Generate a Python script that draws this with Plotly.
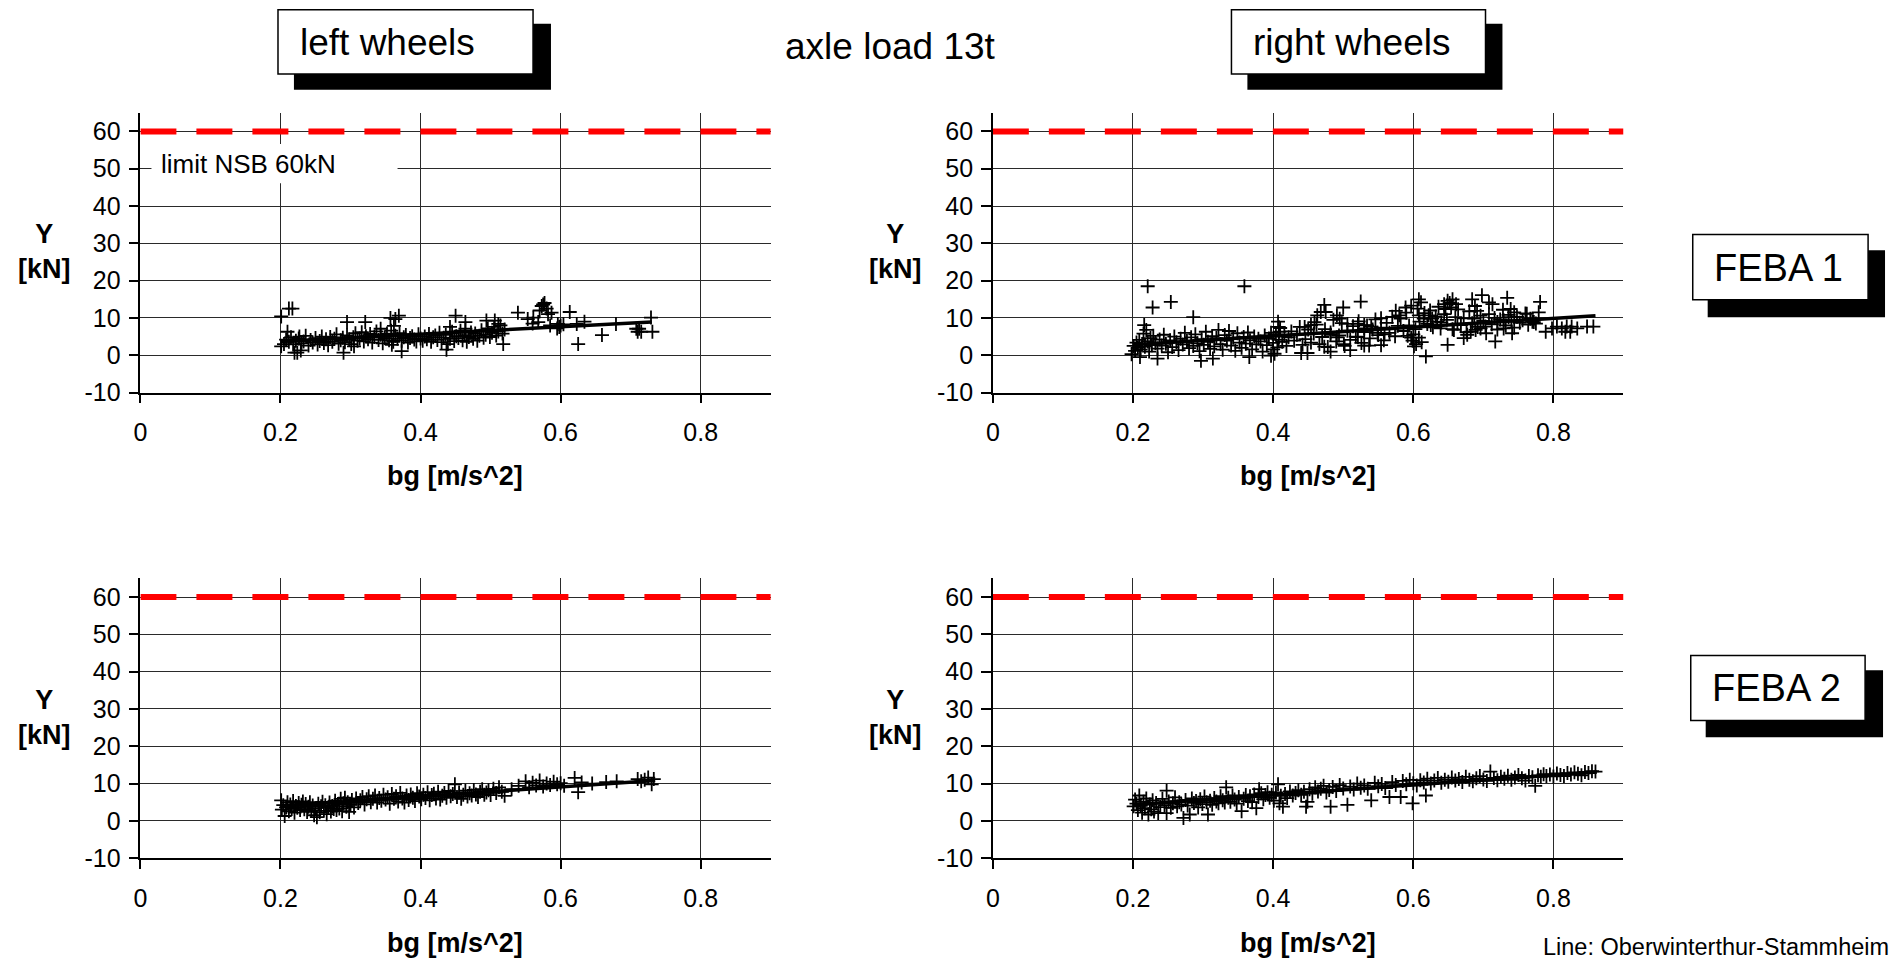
import plotly.graph_objects as go

W, H = 1892, 973

# ---------------- data ----------------
X_TICKS = [0, 0.2, 0.4, 0.6, 0.8]
X_TICK_LABELS = ["0", "0.2", "0.4", "0.6", "0.8"]
Y_TICKS = [-10, 0, 10, 20, 30, 40, 50, 60]
Y_TICK_LABELS = ["-10", "0", "10", "20", "30", "40", "50", "60"]
X_RANGE = [0, 0.9]
Y_RANGE = [-10, 65]
LIMIT_KN = 60
LIMIT_X = [0, 0.9]

# FEBA 1, left wheels
TL_POINTS = [
    (0.201, 10.4), (0.212, 12.5), (0.217, 12.5), (0.210, 6.3), (0.201, 2.4), (0.220, 0.7), (0.224, 0.7),
    (0.229, 1.3), (0.227, 5.0), (0.295, 8.9), (0.321, 8.9), (0.290, 0.7), (0.305, 2.4), (0.343, 7.1),
    (0.357, 10.0), (0.369, 10.6), (0.364, 9.7), (0.362, 7.9), (0.373, 1.1), (0.359, 2.8), (0.450, 10.6),
    (0.437, 1.5), (0.442, 7.6), (0.464, 8.9), (0.464, 7.1), (0.494, 9.3), (0.506, 9.3), (0.511, 8.4),
    (0.518, 3.0), (0.539, 11.4), (0.553, 9.7), (0.561, 10.1), (0.573, 13.2), (0.577, 14.0), (0.575, 13.6),
    (0.568, 8.9), (0.582, 11.0), (0.587, 11.4), (0.596, 8.4), (0.613, 11.6), (0.623, 8.4), (0.625, 3.0),
    (0.634, 9.0), (0.659, 5.4), (0.679, 8.4), (0.708, 7.1), (0.712, 7.1), (0.715, 6.3), (0.710, 6.3),
    (0.729, 10.1), (0.731, 6.3), (0.580, 12.5), (0.570, 12.0), (0.600, 8.0), (0.598, 7.6),
    (0.560, 8.5), (0.585, 8.0), (0.595, 7.2), (0.604, 8.3),
    (0.205, 3.0), (0.208, 4.2), (0.212, 3.6), (0.215, 4.8), (0.218, 2.9), (0.222, 3.9), (0.226, 4.5),
    (0.230, 3.2), (0.233, 3.7), (0.236, 5.2), (0.240, 2.6), (0.243, 4.1), (0.246, 3.4), (0.250, 4.6),
    (0.253, 2.9), (0.256, 3.8), (0.259, 5.0), (0.262, 3.3), (0.265, 4.3), (0.268, 2.7), (0.271, 4.9),
    (0.274, 3.6), (0.277, 4.4), (0.280, 5.6), (0.283, 3.1), (0.286, 4.0), (0.289, 4.7), (0.292, 3.5),
    (0.295, 5.3), (0.298, 4.2), (0.301, 3.0), (0.304, 4.8), (0.307, 5.9), (0.310, 3.9), (0.313, 4.5),
    (0.316, 6.2), (0.319, 3.7), (0.322, 5.1), (0.325, 4.3), (0.328, 5.7), (0.331, 3.4), (0.334, 4.9),
    (0.337, 6.4), (0.340, 4.1), (0.343, 5.5), (0.346, 3.2), (0.349, 4.6), (0.352, 5.8), (0.355, 4.0),
    (0.358, 6.6), (0.361, 3.6), (0.364, 5.2), (0.367, 4.4), (0.370, 5.9), (0.373, 3.9), (0.376, 4.8),
    (0.379, 5.4), (0.382, 3.4), (0.385, 4.6), (0.388, 5.1), (0.391, 4.2), (0.394, 3.7), (0.397, 5.6),
    (0.400, 4.5), (0.403, 3.9), (0.406, 5.0), (0.409, 4.3), (0.412, 5.7), (0.415, 3.6), (0.418, 4.8),
    (0.421, 5.3), (0.424, 4.1), (0.427, 6.0), (0.430, 3.5), (0.433, 4.7), (0.436, 5.5), (0.439, 3.0),
    (0.442, 4.4), (0.445, 6.3), (0.448, 3.8), (0.451, 5.1), (0.454, 4.6), (0.457, 6.6), (0.460, 4.0),
    (0.463, 5.4), (0.466, 3.6), (0.469, 4.9), (0.472, 6.1), (0.475, 4.4), (0.478, 5.8), (0.481, 3.9),
    (0.484, 5.2), (0.487, 6.7), (0.490, 4.7), (0.493, 5.5), (0.496, 7.2), (0.499, 4.9), (0.502, 6.0),
    (0.505, 7.6), (0.508, 5.3), (0.511, 6.4), (0.514, 8.0), (0.517, 5.8), (0.520, 6.9),
]
TL_TREND_X = [0.2, 0.73]
TL_TREND_Y = [3.7, 8.9]

# FEBA 1, right wheels
TR_POINTS = [
    (0.221, 18.5), (0.359, 18.5), (0.228, 12.8), (0.254, 14.3), (0.286, 10.2), (0.216, 8.1),
    (0.297, -1.5), (0.314, -0.9), (0.198, 0.3), (0.210, -0.5), (0.235, -0.9), (0.366, -0.5),
    (0.397, -0.1), (0.400, 1.6), (0.407, 9.0), (0.408, 7.6), (0.409, 6.3), (0.440, 0.6), (0.449, 0.6),
    (0.445, 7.6), (0.454, 8.1), (0.459, 8.9), (0.463, 10.7), (0.473, 13.5), (0.468, 11.6), (0.475, 11.6),
    (0.491, 10.7), (0.500, 12.8), (0.495, 9.8), (0.506, 8.4), (0.521, 8.4), (0.525, 14.4),
    (0.482, 5.5), (0.491, 4.8), (0.501, 3.0), (0.510, 1.4), (0.473, 2.3), (0.482, 1.0), (0.530, 7.2),
    (0.521, 4.9), (0.530, 8.1), (0.540, 7.7), (0.549, 6.0), (0.530, 2.6), (0.537, 2.6), (0.554, 2.7),
    (0.559, 5.6), (0.554, 9.9), (0.575, 11.9), (0.580, 10.7), (0.589, 12.8), (0.597, 13.3), (0.608, 15.0),
    (0.611, 14.2), (0.592, 5.2), (0.599, 3.9), (0.604, 3.0), (0.597, 4.7), (0.608, 4.7), (0.601, 2.4),
    (0.618, -0.3), (0.608, 10.7), (0.615, 9.8), (0.622, 10.7), (0.627, 9.8), (0.634, 9.0), (0.625, 8.1),
    (0.644, 13.7), (0.649, 14.6), (0.656, 15.0), (0.661, 13.7), (0.654, 12.8), (0.646, 12.4), (0.649, 2.8),
    (0.639, 7.2), (0.658, 6.8), (0.663, 8.5), (0.684, 15.0), (0.698, 16.1), (0.708, 14.2), (0.713, 13.7),
    (0.691, 11.9), (0.687, 9.8), (0.672, 4.6), (0.677, 5.5), (0.682, 6.3), (0.689, 6.8), (0.696, 7.2),
    (0.703, 7.7), (0.717, 3.7), (0.720, 8.9), (0.729, 9.4), (0.736, 10.2), (0.734, 15.4), (0.739, 12.4),
    (0.744, 11.5), (0.741, 5.9), (0.729, 7.2), (0.762, 11.1), (0.767, 9.8), (0.772, 8.9), (0.781, 14.3),
    (0.779, 11.5), (0.789, 6.3), (0.798, 7.2), (0.805, 7.7), (0.812, 7.2), (0.819, 7.7), (0.826, 7.7),
    (0.834, 7.2), (0.848, 7.7), (0.857, 7.7), (0.817, 6.3), (0.824, 6.3),
    (0.201, 2.5), (0.203, 1.2), (0.205, 3.4), (0.207, 2.0), (0.209, 4.1), (0.211, 1.5), (0.213, 3.0),
    (0.215, 5.8), (0.217, 2.3), (0.219, 6.8), (0.221, 3.7), (0.223, 1.0), (0.225, 4.6), (0.227, 2.7),
    (0.229, 5.2), (0.232, 3.3), (0.235, 1.8), (0.238, 4.2), (0.241, 2.6), (0.244, 5.5), (0.247, 3.1),
    (0.250, 0.8), (0.253, 4.0), (0.256, 2.2), (0.259, 5.0), (0.262, 3.5), (0.265, 1.4), (0.268, 4.4),
    (0.271, 2.9), (0.274, 6.0), (0.277, 3.8), (0.280, 1.9), (0.283, 4.8), (0.286, 2.5), (0.289, 5.6),
    (0.292, 3.2), (0.295, 1.1), (0.298, 4.3), (0.301, 2.8), (0.304, 6.3), (0.307, 3.6), (0.310, 1.7),
    (0.313, 5.1), (0.316, 2.4), (0.319, 4.6), (0.322, 6.8), (0.325, 3.0), (0.328, 1.5), (0.331, 5.4),
    (0.334, 3.9), (0.337, 6.5), (0.340, 2.6), (0.343, 4.7), (0.346, 1.2), (0.349, 5.9), (0.352, 3.4),
    (0.355, 2.0), (0.358, 4.9), (0.361, 3.1), (0.364, 6.1), (0.367, 4.0), (0.370, 1.6), (0.373, 5.0),
    (0.376, 2.9), (0.379, 4.4), (0.382, 3.7), (0.385, 1.0), (0.388, 5.3), (0.391, 2.7), (0.394, 4.5),
    (0.397, 6.0), (0.400, 3.3), (0.402, 0.4), (0.404, 5.6), (0.406, 2.1), (0.408, 4.1), (0.410, 7.3),
    (0.413, 3.6), (0.416, 5.2), (0.419, 2.5),
    (0.422, 4.8), (0.426, 6.4), (0.430, 3.9), (0.434, 5.5), (0.438, 7.6), (0.442, 2.8), (0.446, 4.3),
    (0.450, 6.9), (0.454, 3.4), (0.458, 5.8), (0.462, 8.2), (0.466, 3.0), (0.470, 4.9), (0.474, 7.0),
    (0.478, 2.2), (0.482, 6.1), (0.486, 9.5), (0.490, 3.7), (0.494, 5.3), (0.498, 8.6), (0.502, 2.5),
    (0.506, 6.6), (0.510, 4.1), (0.514, 7.8), (0.518, 5.0), (0.522, 9.1), (0.526, 3.3), (0.530, 6.2),
    (0.534, 8.0), (0.538, 4.5), (0.542, 6.9), (0.546, 9.6), (0.550, 5.4), (0.554, 7.4), (0.558, 4.0),
    (0.562, 8.7), (0.566, 6.0), (0.570, 10.3), (0.574, 5.1), (0.578, 7.9), (0.582, 9.8), (0.586, 6.5),
    (0.590, 11.4), (0.594, 8.0),
    (0.600, 5.6), (0.603, 7.0), (0.606, 12.5), (0.609, 9.0), (0.612, 3.5), (0.616, 11.3), (0.620, 8.4),
    (0.624, 12.0), (0.628, 7.5), (0.632, 10.4), (0.636, 13.0), (0.640, 8.8), (0.644, 11.0), (0.648, 9.5),
    (0.652, 14.0), (0.656, 7.0), (0.660, 10.2), (0.664, 12.3), (0.668, 8.1), (0.672, 9.9), (0.676, 6.2),
    (0.680, 11.8), (0.684, 8.6), (0.688, 13.2), (0.692, 7.6), (0.696, 10.6), (0.700, 9.2), (0.704, 5.9),
    (0.708, 11.0), (0.712, 8.3), (0.716, 10.0), (0.720, 6.9), (0.724, 9.6), (0.728, 12.2), (0.732, 8.0),
    (0.736, 10.8), (0.740, 9.0), (0.744, 7.4), (0.748, 10.3), (0.752, 8.7), (0.756, 9.4), (0.760, 11.2),
    (0.764, 8.2), (0.770, 9.0), (0.775, 8.5),
]
TR_TREND_X = [0.2, 0.86]
TR_TREND_Y = [2.8, 10.6]

# FEBA 2, left wheels
BL_POINTS = [
    (0.201, 5.5), (0.202, 3.0), (0.204, 4.2), (0.206, 1.3), (0.208, 3.6), (0.210, 5.0), (0.212, 2.6),
    (0.214, 4.4), (0.216, 3.2), (0.218, 5.3), (0.220, 2.2), (0.222, 4.0), (0.224, 3.5), (0.226, 4.8),
    (0.228, 2.9), (0.230, 4.3), (0.232, 5.2), (0.234, 3.1), (0.236, 4.5), (0.238, 2.4), (0.240, 3.8),
    (0.242, 5.0), (0.244, 2.8), (0.246, 4.1), (0.248, 1.5), (0.250, 3.4), (0.252, 1.0), (0.254, 4.6),
    (0.256, 2.3), (0.258, 3.9), (0.260, 5.1), (0.262, 2.7), (0.264, 4.2), (0.266, 1.8), (0.268, 3.6),
    (0.270, 4.9), (0.272, 2.5), (0.274, 4.0), (0.276, 3.2), (0.278, 5.4), (0.280, 2.9), (0.282, 4.5),
    (0.284, 3.3), (0.286, 5.9), (0.288, 2.6), (0.290, 4.7), (0.292, 6.2), (0.294, 3.8), (0.296, 5.0),
    (0.298, 2.4), (0.300, 4.3), (0.302, 5.6), (0.305, 3.6), (0.308, 6.0), (0.311, 4.8), (0.314, 5.5),
    (0.317, 6.4), (0.320, 4.4), (0.323, 5.8), (0.326, 6.6), (0.329, 5.0), (0.332, 5.9), (0.335, 6.8),
    (0.338, 4.9), (0.341, 6.1), (0.344, 5.4), (0.347, 7.0), (0.350, 5.7), (0.353, 6.3), (0.356, 4.6),
    (0.359, 7.2), (0.362, 5.9), (0.365, 6.6), (0.368, 5.2), (0.371, 7.5), (0.374, 6.0), (0.377, 4.9),
    (0.380, 6.8), (0.383, 5.6), (0.386, 7.1), (0.389, 6.2), (0.392, 5.3), (0.395, 7.4), (0.398, 6.5),
    (0.401, 5.8), (0.404, 7.0), (0.407, 6.1), (0.410, 7.7), (0.413, 5.5), (0.416, 6.9), (0.419, 7.3),
    (0.422, 6.0), (0.425, 7.8), (0.428, 5.7), (0.431, 6.7), (0.434, 7.5), (0.437, 6.2), (0.440, 8.0),
    (0.443, 6.6), (0.446, 7.2), (0.449, 9.8), (0.452, 6.4), (0.455, 7.6), (0.458, 5.9), (0.461, 7.0),
    (0.464, 8.1), (0.467, 6.5), (0.470, 7.4), (0.473, 6.8), (0.476, 8.3), (0.479, 7.1), (0.482, 6.4),
    (0.485, 7.8), (0.488, 8.5), (0.491, 7.0), (0.494, 7.6), (0.497, 8.2), (0.500, 6.9), (0.504, 8.6),
    (0.508, 7.5), (0.512, 9.0), (0.516, 7.8), (0.520, 6.7), (0.530, 8.5), (0.540, 9.4), (0.550, 10.6),
    (0.555, 9.0), (0.560, 10.2), (0.565, 9.5), (0.570, 10.8), (0.575, 9.2), (0.580, 10.0), (0.585, 9.6),
    (0.590, 10.5), (0.595, 9.8), (0.600, 10.1), (0.605, 9.4), (0.620, 11.5), (0.625, 7.7), (0.630, 10.3),
    (0.645, 10.0), (0.665, 10.4), (0.680, 10.6), (0.710, 11.2), (0.715, 10.6), (0.720, 11.0),
    (0.725, 11.6), (0.730, 9.8), (0.733, 11.2),
]
BL_TREND_X = [0.2, 0.735]
BL_TREND_Y = [4.0, 10.8]

# FEBA 2, right wheels
BR_POINTS = [
    (0.201, 3.9), (0.203, 5.7), (0.205, 4.6), (0.207, 2.9), (0.209, 6.8), (0.211, 4.0), (0.213, 2.2),
    (0.215, 5.1), (0.217, 3.4), (0.219, 6.0), (0.222, 1.7), (0.224, 4.4), (0.226, 3.1), (0.228, 5.5),
    (0.230, 2.5), (0.233, 4.8), (0.236, 2.1), (0.239, 3.7), (0.242, 5.9), (0.245, 4.2), (0.248, 2.1),
    (0.248, 8.1), (0.251, 5.2), (0.254, 3.5), (0.257, 4.7), (0.260, 6.3), (0.263, 3.9), (0.266, 5.0),
    (0.269, 4.4), (0.272, 0.8), (0.275, 5.6), (0.278, 4.1), (0.281, 1.7), (0.284, 6.0), (0.287, 4.8),
    (0.290, 5.3), (0.293, 3.6), (0.296, 5.8), (0.299, 4.5), (0.302, 6.5), (0.305, 5.0), (0.307, 1.7),
    (0.310, 5.4), (0.313, 4.3), (0.316, 6.1), (0.319, 5.2), (0.322, 4.7), (0.325, 6.6), (0.328, 5.5),
    (0.331, 4.9), (0.333, 9.0), (0.336, 6.2), (0.339, 5.1), (0.342, 6.8), (0.345, 5.7), (0.348, 4.6),
    (0.351, 6.4), (0.355, 2.6), (0.358, 5.9), (0.361, 6.9), (0.364, 5.3), (0.367, 6.6), (0.370, 5.0),
    (0.373, 7.1), (0.376, 3.4), (0.379, 6.4), (0.380, 8.5), (0.383, 7.4), (0.386, 5.8), (0.389, 6.9),
    (0.392, 7.7), (0.395, 6.2), (0.398, 7.0), (0.401, 5.4), (0.404, 7.6), (0.407, 9.8), (0.409, 4.7),
    (0.411, 6.7), (0.414, 3.8), (0.417, 7.2), (0.420, 6.1), (0.424, 7.9), (0.428, 6.8), (0.432, 7.5),
    (0.436, 8.2), (0.440, 7.0), (0.444, 7.8), (0.447, 3.8), (0.449, 5.1), (0.452, 8.5), (0.456, 7.3),
    (0.460, 9.0), (0.464, 7.9), (0.468, 8.6), (0.472, 9.4), (0.476, 7.6), (0.480, 8.3), (0.482, 3.8),
    (0.485, 9.1), (0.490, 8.0), (0.495, 9.6), (0.500, 8.7), (0.506, 4.3), (0.510, 9.2), (0.515, 8.4),
    (0.520, 10.0), (0.525, 8.9), (0.530, 9.5), (0.535, 8.6), (0.540, 5.5), (0.545, 10.2), (0.550, 9.3),
    (0.555, 9.9), (0.560, 8.8), (0.566, 6.4), (0.570, 10.4), (0.575, 9.6), (0.582, 6.4), (0.585, 10.7),
    (0.590, 9.8), (0.595, 11.0), (0.599, 4.7), (0.600, 10.1), (0.605, 9.5), (0.610, 10.9), (0.615, 10.3),
    (0.618, 6.8), (0.620, 11.3), (0.625, 10.0), (0.630, 10.8), (0.635, 11.5), (0.640, 10.2), (0.645, 11.0),
    (0.650, 10.5), (0.655, 11.6), (0.660, 10.8), (0.665, 11.2), (0.670, 10.4), (0.675, 11.8), (0.680, 11.0),
    (0.685, 10.6), (0.690, 11.4), (0.695, 12.0), (0.700, 11.1), (0.705, 10.7), (0.710, 13.2), (0.715, 11.5),
    (0.720, 10.9), (0.725, 11.8), (0.730, 11.3), (0.735, 12.1), (0.740, 11.0), (0.745, 11.6), (0.750, 12.3),
    (0.755, 11.4), (0.760, 10.8), (0.765, 12.0), (0.770, 11.7), (0.774, 9.4), (0.778, 12.2), (0.782, 11.8),
    (0.786, 12.5), (0.790, 12.0), (0.795, 12.4), (0.800, 11.9), (0.805, 12.7), (0.810, 12.3), (0.815, 12.0),
    (0.820, 12.8), (0.825, 12.4), (0.830, 13.0), (0.835, 12.6), (0.840, 12.2), (0.845, 13.1), (0.850, 12.8),
    (0.855, 13.3), (0.860, 13.2),
]
BR_TREND_X = [0.2, 0.862]
BR_TREND_Y = [4.3, 13.1]

TITLE = "axle load 13t"
COL_LABELS = ["left wheels", "right wheels"]
ROW_LABELS = ["FEBA 1", "FEBA 2"]
X_TITLE = "bg [m/s^2]"
Y_TITLE = "Y<br>[kN]"
LIMIT_LABEL = "limit NSB 60kN"
FOOTER = "Line: Oberwinterthur-Stammheim"

# ---------------- layout helpers ----------------
FONT = "Arial, 'Liberation Sans', Helvetica, sans-serif"
TICK_SIZE = 25
TITLE_SIZE = 27
HEAD_SIZE = 37


def px(x):
    return x / W


def py(y):
    return 1 - y / H


LEFT_DOM = [px(133.9), px(766.6)]
RIGHT_DOM = [px(989.5), px(1622.5)]
TOP_DOM = [py(398.3), py(114.4)]
BOT_DOM = [py(870.7), py(586.8)]

panels = [
    ("", LEFT_DOM, TOP_DOM, TL_POINTS, TL_TREND_X, TL_TREND_Y),
    ("2", RIGHT_DOM, TOP_DOM, TR_POINTS, TR_TREND_X, TR_TREND_Y),
    ("3", LEFT_DOM, BOT_DOM, BL_POINTS, BL_TREND_X, BL_TREND_Y),
    ("4", RIGHT_DOM, BOT_DOM, BR_POINTS, BR_TREND_X, BR_TREND_Y),
]

fig = go.Figure()
layout = dict(
    width=W, height=H,
    margin=dict(l=0, r=0, t=0, b=0),
    paper_bgcolor="white", plot_bgcolor="white",
    showlegend=False,
    font=dict(family=FONT, color="black", size=TICK_SIZE),
)

GRID = "#2a2a2a"
for suf, xd, yd, pts, tx, ty in panels:
    xa = "x" + suf
    ya = "y" + suf
    fig.add_trace(go.Scatter(
        x=[p[0] for p in pts], y=[p[1] for p in pts], xaxis=xa, yaxis=ya,
        mode="markers",
        marker=dict(symbol="cross-thin", size=10, color="black", line=dict(color="black", width=1.8)),
        hoverinfo="skip",
    ))
    fig.add_trace(go.Scatter(
        x=tx, y=ty, xaxis=xa, yaxis=ya, mode="lines",
        line=dict(color="black", width=3.5), hoverinfo="skip",
    ))
    fig.add_trace(go.Scatter(
        x=LIMIT_X, y=[LIMIT_KN, LIMIT_KN], xaxis=xa, yaxis=ya, mode="lines",
        line=dict(color="#ff0000", width=6, dash="36px,20px"), hoverinfo="skip",
    ))
    layout["xaxis" + suf] = dict(
        domain=xd, anchor=ya, range=X_RANGE,
        tickmode="array", tickvals=X_TICKS, ticktext=X_TICK_LABELS,
        showgrid=True, gridcolor=GRID, gridwidth=1, zeroline=False,
        showline=True, linecolor="black", linewidth=1.5,
        ticks="outside", ticklen=9, tickwidth=1.5, tickcolor="black",
        tickfont=dict(size=TICK_SIZE, family=FONT, color="black"),
        ticklabelstandoff=8,
        fixedrange=True,
    )
    layout["yaxis" + suf] = dict(
        domain=yd, anchor=xa, range=Y_RANGE,
        tickmode="array", tickvals=Y_TICKS, ticktext=Y_TICK_LABELS,
        showgrid=True, gridcolor=GRID, gridwidth=1, zeroline=False,
        showline=True, linecolor="black", linewidth=1.5,
        ticks="outside", ticklen=10, tickwidth=1.5, tickcolor="black",
        tickfont=dict(size=TICK_SIZE, family=FONT, color="black"),
        ticklabelstandoff=3,
        fixedrange=True,
    )

shapes = []
annotations = []


def boxed_label(text, x0, y0, x1, y1, sx0, sy0, sx1, sy1, tx, ty, size):
    shapes.append(dict(type="rect", xref="paper", yref="paper",
                       x0=px(sx0), x1=px(sx1), y0=py(sy1), y1=py(sy0),
                       fillcolor="black", line=dict(width=0), layer="above"))
    shapes.append(dict(type="rect", xref="paper", yref="paper",
                       x0=px(x0), x1=px(x1), y0=py(y1), y1=py(y0),
                       fillcolor="white", line=dict(color="black", width=1.5), layer="above"))
    annotations.append(dict(text=text, xref="paper", yref="paper", x=px(tx), y=py(ty),
                            xanchor="left", yanchor="middle", showarrow=False,
                            font=dict(size=size, family=FONT, color="black")))


boxed_label(COL_LABELS[0], 272, 10, 528, 75, 288, 24, 546, 91, 292, 43, HEAD_SIZE)
boxed_label(COL_LABELS[1], 1229, 10, 1484, 75, 1245, 24, 1501, 91, 1249, 43, HEAD_SIZE)
boxed_label(ROW_LABELS[0], 1692, 238, 1868, 304, 1707, 254, 1885, 322, 1711, 272, 38)
boxed_label(ROW_LABELS[1], 1690, 665, 1865, 731, 1705, 680, 1883, 748, 1709, 698, 38)

annotations.append(dict(text=TITLE, xref="paper", yref="paper", x=px(887), y=py(47),
                        xanchor="center", yanchor="middle", showarrow=False,
                        font=dict(size=HEAD_SIZE, family=FONT, color="black")))

# limit label with white backing
shapes.append(dict(type="rect", xref="paper", yref="paper",
                   x0=px(145), x1=px(392), y0=py(186), y1=py(146),
                   fillcolor="white", line=dict(width=0), layer="above"))
annotations.append(dict(text=LIMIT_LABEL, xref="paper", yref="paper", x=px(153), y=py(166),
                        xanchor="left", yanchor="middle", showarrow=False,
                        font=dict(size=26, family=FONT, color="black")))

for cx, cy in [(38, 255), (892, 255), (38, 728), (892, 728)]:
    annotations.append(dict(text="<b>" + Y_TITLE.replace("<br>", "</b><br><b>") + "</b>",
                            xref="paper", yref="paper", x=px(cx), y=py(cy),
                            xanchor="center", yanchor="middle", showarrow=False, align="center",
                            font=dict(size=TITLE_SIZE, family=FONT, color="black")))
for cx, cy in [(450, 483), (1306, 483), (450, 957), (1306, 957)]:
    annotations.append(dict(text="<b>" + X_TITLE + "</b>", xref="paper", yref="paper",
                            x=px(cx), y=py(cy), xanchor="center", yanchor="middle",
                            showarrow=False, font=dict(size=TITLE_SIZE, family=FONT, color="black")))

annotations.append(dict(text=FOOTER, xref="paper", yref="paper", x=px(1891), y=py(961),
                        xanchor="right", yanchor="middle", showarrow=False,
                        font=dict(size=23.5, family=FONT, color="black")))

layout["shapes"] = shapes
layout["annotations"] = annotations
fig.update_layout(**layout)
fig.write_html(
    "out.html",
    config={"displayModeBar": False},
    post_script="document.body.style.margin='0';document.body.style.overflow='hidden';",
)
